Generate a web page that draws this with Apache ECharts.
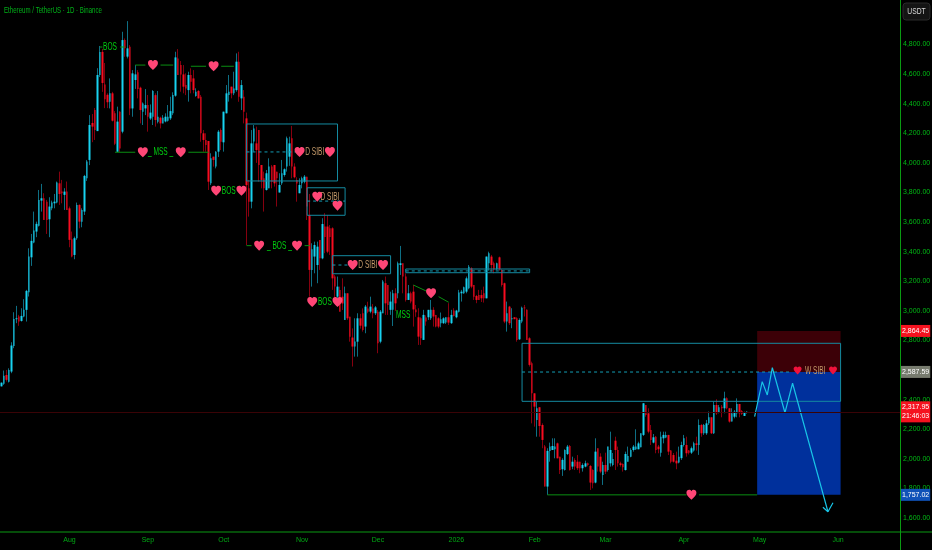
<!DOCTYPE html>
<html lang="en">
<head>
  <meta charset="UTF-8">
  <title>Ethereum / TetherUS</title>
  <script src="https://cdn.jsdelivr.net/npm/echarts@6/dist/echarts.min.js"></script>
  <style>html,body{margin:0;background:#000}</style>
</head>
<body>
<div id="main" style="width:932px;height:550px"></div>
<script type="text/javascript">
  // candles per month, each row is [open, close, low, high]
  var jul = [[2490,2515,2490,2516],[2507,2561,2500,2597],[2567,2534,2522,2601],[2522,2601,2516,2612],[2590,2766,2579,2788],[2763,2946,2748,2991],[2944,2950,2917,3034],[2962,2928,2899,2973],[2932,2966,2928,3018],[2962,3007,2957,3079],[3007,3135,2928,3142],[3126,3367,3097,3423],[3362,3473,3304,3520],[3462,3543,3457,3671],[3536,3588,3498,3603],[3576,3750,3570,3817],[3745,3761,3671,3858],[3761,3615,3615,3795],[3738,3615,3520,3750],[3619,3705,3498,3768],[3693,3732,3680,3745],[3727,3738,3693,3790],[3732,3867,3727,3874],[3862,3790,3716,3941],[3806,3795,3727,3885],[3784,3806,3682,3829],[3806,3682,3682,3874]];
  var aug = [[3693,3480,3430,3705],[3484,3367,3362,3536],[3378,3491,3349,3502],[3491,3716,3480,3732],[3716,3603,3558,3720],[3603,3682,3565,3693],[3671,3912,3648,3919],[3896,4009,3878,4020],[4020,4256,3985,4323],[4270,4245,4140,4330],[4358,4222,4155,4371],[4215,4594,4215,4640],[4594,4750,4580,4790],[4750,4540,4480,4770],[4530,4430,4370,4675],[4460,4410,4370,4470],[4413,4470,4368,4571],[4470,4285,4280,4480],[4335,4130,4120,4350],[4075,4279,4075,4380],[4346,4098,4075,4350],[4211,4830,4200,4886],[4830,4774,4717,4841],[4718,4774,4706,4958],[4785,4368,4323,4796],[4368,4605,4312,4627],[4560,4598,4500,4661],[4612,4499,4436,4627],[4508,4357,4267,4515],[4346,4402,4256,4409],[4368,4391,4323,4499]];
  var sep = [[4391,4312,4211,4459],[4300,4340,4290,4395],[4312,4486,4256,4492],[4458,4290,4245,4470],[4278,4312,4267,4486],[4305,4267,4233,4312],[4267,4305,4267,4323],[4280,4312,4274,4335],[4285,4312,4279,4391],[4301,4350,4290,4447],[4335,4458,4323,4477],[4454,4713,4447,4751],[4706,4594,4594,4769],[4661,4598,4481,4688],[4598,4515,4470,4661],[4526,4503,4458,4605],[4492,4594,4414,4616],[4594,4549,4470,4639],[4571,4492,4470,4627],[4452,4481,4447,4504],[4486,4436,4436,4492],[4447,4200,4143,4459],[4200,4155,4076,4222],[4155,4121,4076,4200],[4148,3873,3817,4148],[3862,4031,3850,4065],[4042,4020,3975,4042],[3975,4076,3963,4080],[4076,4211,4040,4222],[4222,4143,4087,4233]];
  var oct = [[4139,4346,4076,4346],[4335,4470,4335,4526],[4459,4481,4414,4594],[4515,4470,4436,4515],[4470,4503,4458,4616],[4492,4684,4481,4740],[4684,4447,4413,4751],[4436,4526,4357,4560],[4447,4346,4267,4492],[4301,3850,3445,4340],[3828,3738,3637,3885],[3738,4132,3693,4222],[4144,4233,4076,4256],[4132,4087,4000,4245],[4222,3986,3873,4222],[3986,3885,3828,3986],[3896,3828,3671,3941],[3817,3930,3813,3952],[3828,3975,3828,4031],[3975,3873,3828,3986],[3986,3862,3840,3986],[3941,3896,3705,3941],[3800,3851,3800,3930],[3862,3930,3851,4020],[3918,3957,3907,3963],[3975,4166,3941,4178],[4042,4132,3980,4177],[4166,3975,3896,4250],[3975,3903,3896,3997],[3885,3860,3738,3903],[3795,3851,3795,3896]];
  var nov = [[3862,3896,3828,3907],[3873,3907,3862,3918],[3907,3705,3614,3907],[3648,3277,3096,3790],[3277,3416,3164,3457],[3367,3445,3254,3468],[3310,3434,3187,3468],[3479,3355,3277,3479],[3355,3587,3349,3626],[3570,3500,3390,3660],[3570,3400,3390,3648],[3558,3500,3378,3580],[3558,3220,3142,3565],[3232,3164,3085,3243],[3096,3164,3085,3232],[3142,2995,2995,3164],[3096,3050,3006,3220],[2939,3119,2939,3164],[3119,2950,2939,3119],[2961,2826,2792,2961],[2820,2759,2624,2882],[2759,2793,2691,2950],[2792,2950,2691,2984],[2950,2900,2880,2980],[2984,2871,2860,3017],[2894,3029,2849,3040],[3017,2995,2984,3062],[2995,3029,2984,3096],[3017,2984,2950,3046],[2984,3024,2972,3033]];
  var dec = [[2995,2781,2714,3006],[2792,2995,2781,3006],[2984,3198,2984,3209],[3187,3051,2973,3232],[3175,3040,2973,3175],[3007,3063,2973,3130],[3007,3119,2898,3142],[3119,3051,3000,3153],[3119,3322,3085,3333],[3310,3322,3243,3439],[3322,3232,3119,3322],[3232,3074,3063,3254],[3074,3119,3074,3175],[3119,3063,3051,3130],[3130,3010,2894,3175],[3010,2990,2960,3040],[2957,2826,2770,3018],[2950,2815,2770,2957],[2804,2973,2804,3007],[2956,2928,2900,2970],[2957,3007,2939,3007],[2950,3007,2939,3074],[3007,2962,2894,3025],[2973,2894,2889,2973],[2950,2894,2883,2957],[2917,2944,2889,2989],[2917,2950,2912,2957],[2921,2957,2912,2957],[2957,2921,2905,3052],[2917,2973,2912,3007],[3002,2966,2962,3018]];
  var jan = [[2957,3002,2950,3007],[2995,3124,2989,3142],[3119,3130,3063,3142],[3119,3160,3115,3164],[3130,3220,3119,3232],[3153,3299,3146,3310],[3288,3164,3153,3295],[3175,3096,3074,3175],[3101,3074,3052,3108],[3107,3074,3074,3142],[3107,3085,3060,3142],[3119,3085,3056,3164],[3085,3367,3085,3367],[3322,3389,3272,3400],[3367,3310,3265,3378],[3322,3281,3254,3333],[3281,3322,3277,3326],[3362,3281,3272,3367],[3277,3175,3164,3281],[3187,2928,2917,3191],[2928,2984,2860,3063],[3029,2917,2905,3034],[2944,2950,2883,3018],[2957,2944,2944,2957],[2950,2804,2792,2957],[2808,2939,2804,2950],[2928,3022,2917,3029],[3022,3018,2962,3040],[3007,2804,2804,3011],[2815,2635,2624,2822],[2646,2443,2240,2657]];
  var feb = [[2443,2353,2218,2443],[2263,2342,2150,2387],[2349,2222,2150,2349],[2229,2128,2072,2240],[2083,1813,1813,2094],[1813,2054,1757,2072],[2054,2083,1981,2110],[2060,2087,2060,2139],[2065,2083,2004,2139],[2105,2004,2004,2110],[2015,1925,1898,2015],[1930,1993,1885,2004],[1925,2060,1921,2065],[2033,2083,2026,2094],[2087,1925,1921,2094],[1948,1981,1930,2015],[1993,1948,1925,2004],[1981,1937,1925,2026],[1981,1937,1903,1981],[1937,1959,1914,1970],[1948,1970,1943,1988],[1970,1959,1950,1975],[1952,1840,1790,1959],[1925,1835,1801,1930],[1840,2049,1835,2139],[2072,1948,1914,2072],[2015,1914,1903,2038],[1891,1959,1824,1981]];
  var mar = [[1959,1914,1898,2042],[1925,2083,1914,2083],[1970,2060,1948,2184],[1959,2000,1950,2040],[2123,2060,1925,2150],[2060,1970,1948,2083],[1970,1959,1948,1981],[1966,1943,1914,1970],[1925,2033,1921,2049],[1981,2020,1981,2083],[2015,2060,2011,2072],[2060,2083,2049,2094],[2065,2083,2060,2200],[2065,2105,2065,2116],[2078,2173,2078,2173],[2162,2376,2155,2376],[2364,2297,2285,2364],[2308,2184,2173,2342],[2195,2128,2094,2229],[2110,2146,2105,2168],[2150,2060,2038,2155],[2083,2065,2038,2094],[2042,2150,2015,2184],[2139,2162,2105,2184],[2145,2162,2140,2184],[2162,2049,2026,2162],[2056,1981,1970,2060],[2026,1981,1975,2040],[1988,1970,1930,2049],[1975,2015,1970,2083],[2005,2094,1993,2116]];
  var apr = [[2094,2139,2083,2162],[2094,2038,2015,2150],[2056,2042,2030,2060],[2042,2072,2033,2083],[2056,2105,2049,2116],[2105,2094,2056,2150],[2094,2229,2027,2267],[2229,2173,2150,2236],[2173,2229,2162,2236],[2173,2240,2162,2263],[2240,2281,2229,2320],[2281,2173,2168,2281],[2173,2364,2168,2387],[2364,2308,2297,2403],[2313,2349,2308,2364],[2353,2342,2281,2364],[2342,2409,2308,2454],[2409,2342,2335,2416],[2342,2252,2245,2342],[2252,2308,2252,2342],[2285,2319,2274,2330],[2308,2371,2281,2409],[2371,2308,2281,2371],[2324,2304,2297,2330],[2290,2313,2290,2319],[2310,2318,2306,2322]];

  var monthTicks = {'2025-08-01':'Aug','2025-09-01':'Sep','2025-10-01':'Oct','2025-11-01':'Nov','2025-12-01':'Dec','2026-01-01':'2026','2026-02-01':'Feb','2026-03-01':'Mar','2026-04-01':'Apr','2026-05-01':'May','2026-06-01':'Jun'};
  var priceTicks = [1600,1800,2000,2200,2400,2600,2800,3000,3200,3400,3600,3800,4000,4200,4400,4600,4800];

  // price levels of the long / short tool
  var stopPrice = 2864.45, entryPrice = 2587.59, lastPrice = 2317.95, targetPrice = 1757.02;

  // zones: [from, to, top, bottom]
  var sibiBoxes = [
    ['2025-10-10','2025-11-15',4263,3878],
    ['2025-11-03','2025-11-18',3832,3646],
    ['2025-11-13','2025-12-06',3373,3251],
    ['2025-12-12','2026-01-30',3283,3258],
    ['2026-01-27','2026-06-02',2781,2389]
  ];
  var sibiMids = [
    [['2025-10-10',4074],['2025-10-30',4074]],
    [['2025-11-03',3742],['2025-11-18',3742]],
    [['2025-11-13',3310],['2025-11-19',3310]],
    [['2025-12-12',3270],['2026-01-30',3270]],
    [['2026-01-27',2587],['2026-05-13',2587]]
  ];
  var greenLines = [
    [['2025-08-13',4783],['2025-08-14',4783]],
    [['2025-08-21',4783],['2025-08-23',4783]],
    [['2025-08-27',4661],['2025-08-31',4661]],
    [['2025-09-06',4661],['2025-09-11',4661]],
    [['2025-09-18',4653],['2025-09-24',4653]],
    [['2025-09-30',4653],['2025-10-05',4653]],
    [['2025-08-19',4072],['2025-08-27',4072]],
    [['2025-09-17',4072],['2025-09-25',4072]],
    [['2025-10-10',3441],['2025-10-12',3441]],
    [['2025-11-02',3441],['2025-11-04',3441]],
    [['2025-12-15',3175],['2025-12-20',3135]],
    [['2025-12-25',3096],['2025-12-29',3058]],
    [['2026-02-06',1757],['2026-04-02',1757]],
    [['2026-04-07',1757],['2026-04-30',1757]]
  ];
  var hearts = [
    ['2025-09-03',4661],['2025-09-27',4653],['2025-08-30',4072],['2025-09-14',4072],
    ['2025-09-28',3812],['2025-10-08',3812],['2025-10-15',3441],['2025-10-30',3441],
    ['2025-11-05',3060],['2025-11-15',3060],['2025-10-31',4074],['2025-11-12',4074],
    ['2025-11-07',3772],['2025-11-15',3711],['2025-11-21',3310],['2025-12-03',3310],
    ['2025-12-22',3119],['2026-04-04',1757]
  ];
  var redHearts = [['2026-05-16',2598],['2026-05-30',2598]];
  var greenTexts = [
    ['2025-08-17',4783,'BOS'],['2025-09-06',4072,'_ MSS _'],['2025-10-03',3812,'BOS'],
    ['2025-10-23',3441,'_ BOS _'],['2025-11-10',3060,'BOS'],['2025-12-11',2974,'MSS']
  ];
  var tanTexts = [
    ['2025-11-06',4074,'D SIBI'],['2025-11-12',3772,'D SIBI'],['2025-11-27',3310,'D SIBI'],['2026-05-23',2594,'W SIBI']
  ];
  var projection = [
    ['2026-04-29',2285],['2026-05-02',2522],['2026-05-04',2432],['2026-05-06',2616],
    ['2026-05-11',2312],['2026-05-14',2511],['2026-05-28',1643]
  ];
  var arrowHead = [['2026-05-26',1673],['2026-05-28',1643],['2026-05-30',1704]];

  var candles = jul.concat(aug, sep, oct, nov, dec, jan, feb, mar, apr);
  var bodies = candles.map(function (c) {
    return [c[0], c[1], Math.min(c[0], c[1]), Math.max(c[0], c[1])];
  });

  var dates = [];
  for (var i = 0; i < 356; i++) {
    dates.push(new Date(Date.UTC(2025, 6, 5 + i)).toISOString().slice(0, 10));
  }

  var heartPath = 'path://M12 21.6C5 15.5 1 11.8 1 7.2 1 3.8 3.7 1.2 7 1.2 9 1.2 10.9 2.2 12 3.9 13.1 2.2 15 1.2 17 1.2 20.3 1.2 23 3.8 23 7.2 23 11.8 19 15.5 12 21.6Z';
  var sans = '"Liberation Sans", sans-serif';

  function lineSeries(data, color, width, dashed, z) {
    return {
      type: 'line', data: data, symbol: 'none', silent: true, animation: false, z: z || 4,
      lineStyle: { color: color, width: width || 1, type: dashed ? [3, 3] : 'solid' }
    };
  }
  // the reference text is squeezed sideways, so these labels are drawn with a scaleX
  function textSeries(data, color) {
    return {
      type: 'custom', data: data, silent: true, animation: false, z: 6, clip: false,
      encode: { x: 0, y: 1 },
      renderItem: function (params, api) {
        var pos = api.coord([api.value(0), api.value(1)]);
        return {
          type: 'text', x: pos[0], y: pos[1], scaleX: 0.6,
          style: { text: data[params.dataIndex][2], fill: color, font: '11px ' + sans, align: 'center', verticalAlign: 'middle' }
        };
      }
    };
  }
  function heartSeries(data, color, size) {
    return {
      type: 'scatter', data: data, symbol: heartPath, symbolSize: size, silent: true, animation: false, z: 6,
      itemStyle: { color: color, opacity: 1 }
    };
  }
  function priceTag(value, text, bg, lineColor) {
    return {
      yAxis: value,
      lineStyle: { color: lineColor || 'transparent', width: 1, type: 'solid' },
      label: {
        show: true, position: 'end', distance: 1, formatter: text, color: '#fff', backgroundColor: bg,
        fontFamily: sans, fontSize: 7, lineHeight: 9, padding: [2, 1, 1, 1]
      }
    };
  }

  var series = [
    {
      // wicks sit under the bodies in a dimmer colour
      type: 'candlestick', data: candles, barWidth: 1, silent: true, animation: false, z: 2,
      itemStyle: { color: '#0e6f84', color0: '#86000f', borderColor: '#0e6f84', borderColor0: '#86000f', borderWidth: 1 }
    },
    {
      type: 'candlestick', data: bodies, barWidth: 2, silent: true, animation: false, z: 3,
      itemStyle: { color: '#18d2f0', color0: '#f80c20', borderWidth: 0 }
    },
    {
      type: 'line', data: [], silent: true, animation: false, z: 1,
      markArea: {
        silent: true, animation: false,
        data: [
          [{ xAxis: '2026-04-30', yAxis: stopPrice, itemStyle: { color: '#3c0007', opacity: 1 } }, { xAxis: '2026-06-02', yAxis: entryPrice }],
          [{ xAxis: '2026-04-30', yAxis: entryPrice, itemStyle: { color: '#00309c', opacity: 1 } }, { xAxis: '2026-06-02', yAxis: targetPrice }]
        ]
      },
      markLine: {
        silent: true, animation: false, symbol: 'none', z: 20,
        data: [
          priceTag(lastPrice, '2,317.95\n21:46:03', '#f5121f', '#3a0306'),
          priceTag(stopPrice, '2,864.45', '#f5121f'),
          priceTag(entryPrice, '2,587.59', '#777b6e'),
          priceTag(targetPrice, '1,757.02', '#1052b8')
        ]
      }
    },
    lineSeries(projection, '#18c4e6', 1.2, false, 7),
    lineSeries(arrowHead, '#18c4e6', 1.2, false, 7),
    heartSeries(hearts, '#ff4676', 10),
    heartSeries(redHearts, '#f0123c', 8),
    textSeries(greenTexts, '#00d010'),
    textSeries(tanTexts, '#c49a6a')
  ];
  sibiBoxes.forEach(function (b) {
    var path = [[b[0], b[2]], [b[1], b[2]], [b[1], b[3]], [b[0], b[3]], [b[0], b[2]]];
    series.push(lineSeries(path, '#148aa0', 1));
  });
  sibiMids.forEach(function (m) {
    series.push(lineSeries(m, '#139cb4', 1, true));
  });
  greenLines.forEach(function (g) {
    series.push(lineSeries(g, '#0a8f12', 1));
  });

  var myChart = echarts.init(document.getElementById('main'));
  var option = {
    backgroundColor: '#000',
    animation: false,
    grid: { left: 0, right: 32, top: 0, bottom: 18, outerBoundsMode: 'none' },
    xAxis: {
      type: 'category', data: dates, boundaryGap: true,
      axisLine: { show: false }, axisTick: { show: false }, splitLine: { show: false },
      axisLabel: {
        color: '#00a814', fontFamily: sans, fontSize: 7, margin: 5,
        interval: function (i, val) { return monthTicks[val] !== undefined; },
        formatter: function (val) { return monthTicks[val] || ''; }
      }
    },
    yAxis: {
      type: 'value', position: 'right', min: 1506, max: 5100.7, scale: true,
      axisLine: { show: false }, axisTick: { show: false }, splitLine: { show: false },
      axisLabel: {
        customValues: priceTicks, color: '#00b814', fontFamily: sans, fontSize: 7, margin: 3,
        formatter: function (v) { return v.toLocaleString('en-US', { minimumFractionDigits: 2 }); }
      }
    },
    graphic: [
      { type: 'line', shape: { x1: 0, y1: 532, x2: 932, y2: 532 }, style: { stroke: '#0a9a12', lineWidth: 1 }, z: 10 },
      { type: 'line', shape: { x1: 900.5, y1: 0, x2: 900.5, y2: 550 }, style: { stroke: '#0a9a12', lineWidth: 1 }, z: 10 },
      { type: 'rect', shape: { x: 903, y: 3, width: 27, height: 17, r: 3 }, style: { fill: '#141414', stroke: '#2a2a2a', lineWidth: 1 }, z: 10 },
      { type: 'text', x: 916.5, y: 11.5, scaleX: 0.75, style: { text: 'USDT', fill: '#d8d8d8', font: '9px ' + sans, align: 'center', verticalAlign: 'middle' }, z: 11 },
      { type: 'text', x: 4, y: 11, scaleX: 0.68, style: { text: 'Ethereum / TetherUS · 1D · Binance', fill: '#00b018', font: '9px ' + sans, align: 'left', verticalAlign: 'middle' }, z: 11 }
    ],
    series: series
  };
  myChart.setOption(option);
</script>
</body>
</html>
